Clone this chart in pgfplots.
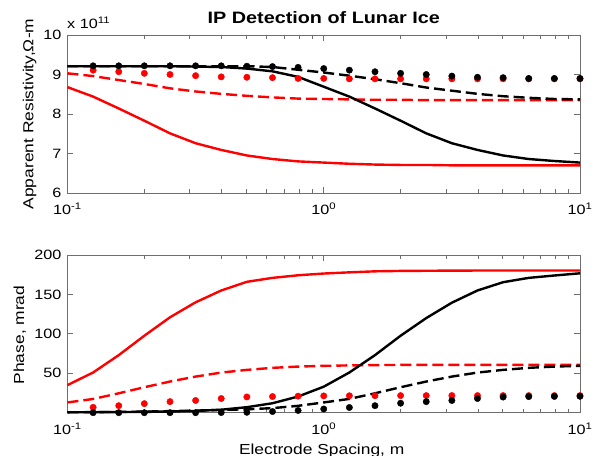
\documentclass[border=0pt]{standalone}
\usepackage{fontspec}
\setmainfont{Liberation Sans}[FakeStretch=1.2]
\usepackage{pgfplots}
\usepackage{pgfplotstable}
\pgfplotsset{compat=1.18}
\definecolor{frame}{RGB}{110,110,110}
\definecolor{mred}{RGB}{255,0,0}
\newcommand\tickfont{\fontsize{13.5bp}{16bp}\selectfont}
\newcommand\labfont{\fontsize{14.5bp}{17bp}\selectfont}

% resistivity in units of 1e11 ohm-m
\pgfplotstableread{
x      rs    rd    rp    bs    bd    bp
0.1    8.68  9.03  nan   9.21  9.21  nan
0.1259 8.44  8.96  9.11  9.21  9.21  9.22
0.1585 8.14  8.86  9.07  9.21  9.21  9.22
0.1995 7.83  8.76  9.03  9.21  9.21  9.22
0.2512 7.51  8.65  9.00  9.21  9.21  9.22
0.3162 7.26  8.57  8.97  9.20  9.21  9.22
0.3981 7.09  8.51  8.94  9.19  9.21  9.22
0.5012 6.95  8.46  8.93  9.15  9.21  9.21
0.6310 6.86  8.42  8.92  9.08  9.19  9.20
0.7943 6.80  8.39  8.90  8.94  9.12  9.18
1.0    6.77  8.38  8.90  8.69  9.05  9.15
1.2589 6.74  8.37  8.89  8.44  8.97  9.11
1.5849 6.72  8.36  8.89  8.14  8.88  9.07
1.9953 6.71  8.36  8.89  7.83  8.78  9.03
2.5119 6.71  8.35  8.89  7.51  8.67  9.00
3.1623 6.70  8.35  8.89  7.26  8.59  8.96
3.9811 6.70  8.35  8.89  7.09  8.51  8.93
5.0119 6.70  8.35  8.89  6.95  8.45  8.92
6.3096 6.70  8.35  8.89  6.86  8.41  8.90
7.9433 6.70  8.35  8.89  6.81  8.38  8.90
10.0   6.70  8.35  8.89  6.77  8.37  8.90
}\rhotab

% phase, mrad
\pgfplotstableread{
x      rs     rd    rp    bs     bd    bp
0.1    35.0   13.0  nan   0.5    0.5   nan
0.1259 51.0   17.4  6.8   0.6    0.7   0.0
0.1585 73.0   24.6  8.9   0.8    1.0   0.0
0.1995 97.6   32.3  11.5  1.0    1.4   0.0
0.2512 121.0  39.5  14.0  1.5    2.0   0.0
0.3162 140.0  45.8  15.5  2.2    2.7   0.0
0.3981 155.0  50.9  18.0  3.8    3.5   0.2
0.5012 166.0  54.3  20.0  7.0    4.3   0.5
0.6310 171.0  56.9  20.5  12.0   5.8   1.5
0.7943 174.3  58.5  21.0  20.5   8.7   2.8
1.0    176.5  59.4  21.3  33.0   13.0  4.7
1.2589 178.0  60.0  21.5  51.0   17.5  6.6
1.5849 179.3  60.4  21.6  73.0   24.6  8.9
1.9953 179.8  60.6  21.7  97.6   32.3  12.0
2.5119 180.0  60.7  21.7  120.0  39.5  14.0
3.1623 180.2  60.7  21.7  139.5  45.8  15.5
3.9811 180.3  60.7  21.7  155.0  50.9  18.0
5.0119 180.3  60.7  21.7  165.5  54.3  19.8
6.3096 180.3  60.7  21.7  171.0  56.9  20.4
7.9433 180.3  60.7  21.7  174.0  58.5  20.6
10.0   180.3  60.7  21.7  176.8  59.4  20.8
}\phasetab

\pgfplotsset{
  panel/.style={
    scale only axis, width=512.5bp, anchor=south west,
    xmin=0.1, xmax=10,
    xtick={0.1,1,10},
    xticklabels={10\textsuperscript{-1},10\textsuperscript{0},10\textsuperscript{1}},
    minor xtick={0.2,0.3,0.4,0.5,0.6,0.7,0.8,0.9,2,3,4,5,6,7,8,9},
    tick pos=both, tick align=inside,
    major tick length=6bp, minor tick length=4bp,
    axis line style={draw=frame, line width=0.8bp},
    tick style={draw=frame, line width=0.8bp},
    tick label style={font=\tickfont, text=black, inner sep=0pt},
    xticklabel style={anchor=base, yshift=-22bp},
    yticklabel style={anchor=east, xshift=-6bp},
    /pgf/number format/assume math mode=true,
    clip=false,
  },
  sol/.style={line width=2.4bp, no marks},
  das/.style={line width=2.4bp, no marks, dash pattern=on 11bp off 5bp},
  dot/.style={only marks, mark=*, mark size=3.2bp},
}

\begin{document}
\begin{tikzpicture}
\path[use as bounding box] (0,0) rectangle (597bp,456bp);

\begin{semilogxaxis}[panel, at={(67.5bp,263bp)}, height=158bp,
  ymin=6, ymax=10, ytick={6,7,8,9,10}]
\addplot[sol, mred] table[x=x, y=rs] {\rhotab};
\addplot[das, mred] table[x=x, y=rd] {\rhotab};
\addplot[dot, mred] table[x=x, y=rp] {\rhotab};
\addplot[sol, black] table[x=x, y=bs] {\rhotab};
\addplot[das, black] table[x=x, y=bd] {\rhotab};
\addplot[dot, black] table[x=x, y=bp] {\rhotab};
\end{semilogxaxis}

\begin{semilogxaxis}[panel, at={(67.5bp,43.3bp)}, height=157.7bp,
  ymin=0, ymax=200, ytick={50,100,150,200}]
\addplot[sol, mred] table[x=x, y=rs] {\phasetab};
\addplot[das, mred] table[x=x, y=rd] {\phasetab};
\addplot[dot, mred] table[x=x, y=rp] {\phasetab};
\addplot[sol, black] table[x=x, y=bs] {\phasetab};
\addplot[das, black] table[x=x, y=bd] {\phasetab};
\addplot[dot, black] table[x=x, y=bp] {\phasetab};
\end{semilogxaxis}

\node[anchor=base, inner sep=0pt, font=\fontsize{16.5bp}{19bp}\selectfont\bfseries]
  at (323.75bp,432bp) {IP Detection of Lunar Ice};
\node[anchor=base west, inner sep=0pt, font=\tickfont] at (67bp,427.7bp) {x 10\textsuperscript{11}};
\node[rotate=90, anchor=base, inner sep=0pt, font=\labfont] at (33.3bp,342bp) {Apparent Resistivity,Ω-m};
\node[rotate=90, anchor=base, inner sep=0pt, font=\labfont] at (24bp,121bp) {Phase, mrad};
\node[anchor=base, inner sep=0pt, font=\labfont] at (321.7bp,2bp) {Electrode Spacing, m};
\end{tikzpicture}
\end{document}
